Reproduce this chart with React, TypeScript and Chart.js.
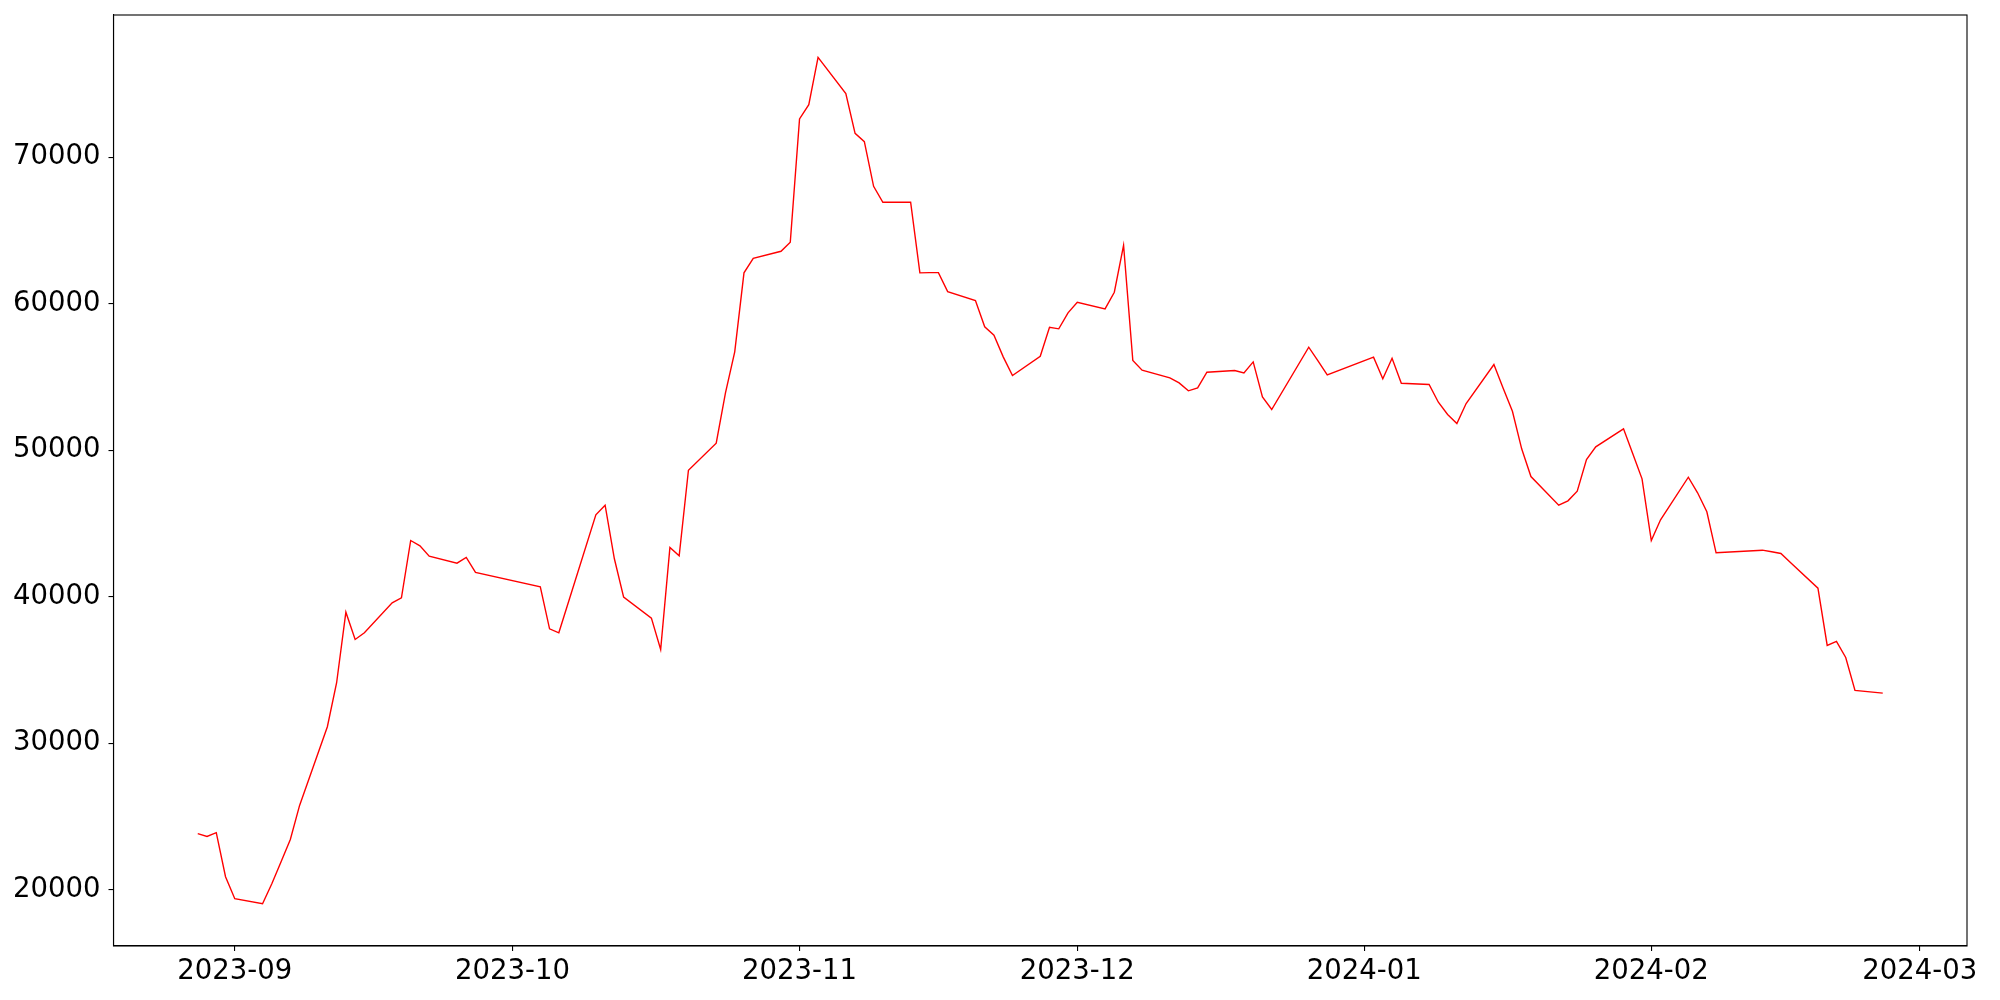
import React, { useEffect, useRef } from "react";
import { Chart, registerables } from "chart.js";

Chart.register(...registerables);

const dates: string[] = [
  "2023-08-28", "2023-08-29", "2023-08-30", "2023-08-31", "2023-09-01",
  "2023-09-04", "2023-09-05", "2023-09-06", "2023-09-07", "2023-09-08",
  "2023-09-11", "2023-09-12", "2023-09-13", "2023-09-14", "2023-09-15",
  "2023-09-18", "2023-09-19", "2023-09-20", "2023-09-21", "2023-09-22",
  "2023-09-25", "2023-09-26", "2023-09-27",
  "2023-10-04", "2023-10-05", "2023-10-06",
  "2023-10-10", "2023-10-11", "2023-10-12", "2023-10-13",
  "2023-10-16", "2023-10-17", "2023-10-18", "2023-10-19", "2023-10-20",
  "2023-10-23", "2023-10-24", "2023-10-25", "2023-10-26", "2023-10-27",
  "2023-10-30", "2023-10-31", "2023-11-01", "2023-11-02", "2023-11-03",
  "2023-11-06", "2023-11-07", "2023-11-08", "2023-11-09", "2023-11-10",
  "2023-11-13", "2023-11-14", "2023-11-15", "2023-11-16", "2023-11-17",
  "2023-11-20", "2023-11-21", "2023-11-22", "2023-11-23", "2023-11-24",
  "2023-11-27", "2023-11-28", "2023-11-29", "2023-11-30", "2023-12-01",
  "2023-12-04", "2023-12-05", "2023-12-06", "2023-12-07", "2023-12-08",
  "2023-12-11", "2023-12-12", "2023-12-13", "2023-12-14", "2023-12-15",
  "2023-12-18", "2023-12-19", "2023-12-20", "2023-12-21", "2023-12-22",
  "2023-12-26", "2023-12-27", "2023-12-28",
  "2024-01-02", "2024-01-03", "2024-01-04", "2024-01-05",
  "2024-01-08", "2024-01-09", "2024-01-10", "2024-01-11", "2024-01-12",
  "2024-01-15", "2024-01-16", "2024-01-17", "2024-01-18", "2024-01-19",
  "2024-01-22", "2024-01-23", "2024-01-24", "2024-01-25", "2024-01-26",
  "2024-01-29", "2024-01-30", "2024-01-31", "2024-02-01", "2024-02-02",
  "2024-02-05", "2024-02-06", "2024-02-07", "2024-02-08",
  "2024-02-13", "2024-02-14", "2024-02-15", "2024-02-16",
  "2024-02-19", "2024-02-20", "2024-02-21", "2024-02-22", "2024-02-23",
  "2024-02-26",
];

const prices: number[] = [
  23834, 23649, 23902, 20900, 19400,
  19059, 20423, 21924, 23445, 25764,
  31132, 34134, 38950, 37087, 37542,
  39590, 39932, 43840, 43479, 42769,
  42292, 42681, 41658,
  40680, 37815, 37542,
  45592, 46248, 42592, 39973,
  38540, 36405, 43363, 42794, 48636,
  50478, 53913, 56710, 62101, 63097,
  63575, 64188, 72606, 73581, 76808,
  74332, 71624, 71057, 68008, 66917,
  66917, 62101, 62120, 62120, 60825,
  60211, 58417, 57844, 56370, 55095,
  56412, 58390, 58281, 59372, 60095,
  59645, 60778, 63984, 56119, 55457,
  54936, 54595, 54052, 54253, 55323,
  55437, 55278, 56028, 53640, 52776,
  57028, 56096, 55141,
  56346, 54870, 56276, 54570,
  54482, 53274, 52435, 51821, 53186,
  55846, 54230, 52660, 50095, 48206,
  46248, 46548, 47203, 49366, 50232,
  51460, 49755, 48049, 43840, 45252,
  48158, 47094, 45798, 43001,
  43179, 43070, 42954, 42360,
  40587, 36678, 36951, 35859, 33608,
  33424,
];

const xTickLabels: string[] = [
  "2023-09", "2023-10", "2023-11", "2023-12", "2024-01", "2024-02", "2024-03",
];

const yTickValues: number[] = [20000, 30000, 40000, 50000, 60000, 70000];

const toMs = (s: string) => {
  const [y, m, d] = s.split("-").map(Number);
  return Date.UTC(y, m - 1, d || 1);
};

const fmtMonth = (ms: number) => {
  const d = new Date(ms);
  const m = d.getUTCMonth() + 1;
  return `${d.getUTCFullYear()}-${m < 10 ? "0" + m : m}`;
};

const FONT = "'DejaVu Sans', sans-serif";
const FONT_SIZE = 27.5;

const framePlugin = {
  id: "frame",
  afterDraw(chart: any) {
    const { ctx, chartArea } = chart;
    ctx.save();
    ctx.strokeStyle = "#000";
    ctx.lineWidth = 1.1;
    ctx.strokeRect(chartArea.left, chartArea.top, chartArea.right - chartArea.left, chartArea.bottom - chartArea.top);
    ctx.restore();
  },
};

export default function App() {
  const canvasRef = useRef<HTMLCanvasElement | null>(null);

  useEffect(() => {
    if (!canvasRef.current) return;
    const xs = dates.map(toMs);
    const points = xs.map((x, i) => ({ x, y: prices[i] }));
    const xMinData = Math.min(...xs);
    const xMaxData = Math.max(...xs);
    const xr = xMaxData - xMinData;
    const yMinData = Math.min(...prices);
    const yMaxData = Math.max(...prices);
    const yr = yMaxData - yMinData;
    const xTicks = xTickLabels.map((l) => toMs(l + "-01"));

    const chart = new Chart(canvasRef.current, {
      type: "line",
      data: {
        datasets: [
          {
            data: points,
            borderColor: "#ff0000",
            borderWidth: 1.4,
            pointRadius: 0,
            fill: false,
            tension: 0,
          },
        ],
      },
      options: {
        animation: false,
        responsive: false,
        maintainAspectRatio: false,
        devicePixelRatio: 1,
        layout: { padding: { left: 0, right: 33, top: 15, bottom: 0 } },
        plugins: { legend: { display: false }, tooltip: { enabled: false } },
        scales: {
          x: {
            type: "linear",
            min: xMinData - 0.05 * xr,
            max: xMaxData + 0.05 * xr,
            afterBuildTicks: (scale: any) => {
              scale.ticks = xTicks.map((v) => ({ value: v }));
            },
            afterFit: (scale: any) => {
              scale.height = 54;
              scale.paddingLeft = 0;
              scale.paddingRight = 0;
            },
            ticks: {
              autoSkip: false,
              maxRotation: 0,
              padding: 4,
              color: "#000",
              font: { family: FONT, size: FONT_SIZE },
              callback: (v: any) => fmtMonth(Number(v)),
            },
            grid: {
              drawOnChartArea: false,
              drawTicks: true,
              tickLength: 5,
              color: "#000",
              lineWidth: 1.1,
            },
            border: { display: true, color: "#000", width: 1.1 },
          },
          y: {
            type: "linear",
            min: yMinData - 0.05 * yr,
            max: yMaxData + 0.05 * yr,
            afterBuildTicks: (scale: any) => {
              scale.ticks = yTickValues.map((v) => ({ value: v }));
            },
            afterFit: (scale: any) => {
              scale.width = 113.5;
              scale.paddingTop = 0;
              scale.paddingBottom = 0;
            },
            ticks: {
              autoSkip: false,
              padding: 8,
              color: "#000",
              font: { family: FONT, size: FONT_SIZE },
              callback: (v: any) => String(v),
            },
            grid: {
              drawOnChartArea: false,
              drawTicks: true,
              tickLength: 5,
              color: "#000",
              lineWidth: 1.1,
            },
            border: { display: true, color: "#000", width: 1.1 },
          },
        },
      } as any,
      plugins: [framePlugin],
    });
    return () => chart.destroy();
  }, []);

  return (
    <div style={{ position: "fixed", left: 0, top: 0, width: 2000, height: 1000, background: "#fff" }}>
      <canvas ref={canvasRef} width={2000} height={1000} style={{ width: 2000, height: 1000, display: "block" }} />
    </div>
  );
}
